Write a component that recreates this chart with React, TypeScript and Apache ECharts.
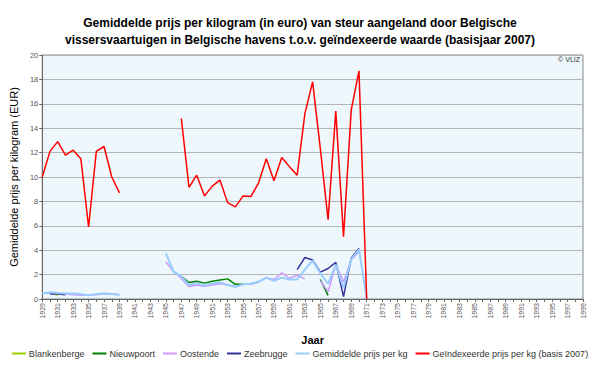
import React, { useEffect, useRef } from "react";
import * as echarts from "echarts";

const firstYear = 1929;
const lastYear = 1999;
const years: string[] = [];
for (let y = firstYear; y <= lastYear; y++) years.push(String(y));

// segments: [startYear, values]
const blankenberge: [number, number[]][] = [[1930, [0.55, 0.3]]];
const nieuwpoort: [number, number[]][] = [
  [1947, [1.85, 1.35, 1.45, 1.3, 1.45, 1.55, 1.65, 1.2, 1.2, 1.25, 1.4]],
  [1965, [1.6, 0.3]],
];
const oostende: [number, number[]][] = [
  [1929, [0.45, 0.5, 0.45, 0.4, 0.35, 0.3, 0.3, 0.35, 0.45, 0.4, 0.35]],
  [1945, [3.05, 2.25, 1.7, 1.0, 1.15, 1.05, 1.15, 1.25, 1.15, 1.0, 1.2, 1.2, 1.4, 1.75, 1.6, 2.15, 1.7, 1.95, 1.65]],
  [1965, [1.5, 0.6, 2.8, 1.4, 3.2, 3.9]],
];
const zeebrugge: [number, number[]][] = [
  [1930, [0.4, 0.4, 0.35]],
  [1962, [2.4, 3.4, 3.2, 2.2, 2.5, 3.0, 0.2, 3.35, 4.15]],
];
const gemiddelde: [number, number[]][] = [
  [1929, [0.45, 0.55, 0.5, 0.45, 0.45, 0.4, 0.3, 0.4, 0.45, 0.4, 0.35]],
  [1945, [3.75, 2.25, 1.85, 1.15, 1.3, 1.1, 1.25, 1.35, 1.15, 1.0, 1.2, 1.25, 1.4, 1.75, 1.5, 1.75, 1.6, 1.6, 2.4, 3.15, 2.1, 1.25, 2.8, 0.9, 3.25, 4.05, 0.05]],
];
const geindexeerd: [number, number[]][] = [
  [1929, [10.0, 12.1, 12.9, 11.8, 12.2, 11.5, 5.9, 12.1, 12.5, 10.0, 8.7]],
  [1947, [14.8, 9.15, 10.15, 8.45, 9.25, 9.75, 7.9, 7.55, 8.45, 8.4, 9.5, 11.5, 9.7, 11.6, 10.85, 10.15, 15.2, 17.8, 12.3, 6.5, 15.4, 5.1, 15.5, 18.7, 0]],
];

function build(segs: [number, number[]][]): (number | null)[] {
  const out: (number | null)[] = years.map(() => null);
  segs.forEach(([start, vals]) => {
    vals.forEach((v, i) => {
      out[start - firstYear + i] = v;
    });
  });
  return out;
}

const seriesDefs = [
  { name: "Blankenberge", color: "#99cc00", data: blankenberge, width: 1.5 },
  { name: "Nieuwpoort", color: "#008000", data: nieuwpoort, width: 1.5 },
  { name: "Oostende", color: "#cc99ff", data: oostende, width: 1.5 },
  { name: "Zeebrugge", color: "#333399", data: zeebrugge, width: 1.5 },
  { name: "Gemiddelde prijs per kg", color: "#99ccff", data: gemiddelde, width: 2 },
  { name: "Geïndexeerde prijs per kg (basis 2007)", color: "#ff0000", data: geindexeerd, width: 1.5 },
];

export default function App() {
  const ref = useRef<HTMLDivElement>(null);
  useEffect(() => {
    if (!ref.current) return;
    const chart = echarts.init(ref.current, undefined, { renderer: "svg" });
    const font = "Liberation Sans, Arial, sans-serif";
    chart.setOption({
      animation: false,
      backgroundColor: "#ffffff",
      textStyle: { fontFamily: font },
      title: {
        text: "Gemiddelde prijs per kilogram (in euro) van steur aangeland door Belgische\nvissersvaartuigen in Belgische havens t.o.v. geïndexeerde waarde (basisjaar 2007)",
        left: "center",
        top: 9,
        textStyle: { fontSize: 12, fontWeight: "bold", color: "#000", lineHeight: 17, fontFamily: font },
      },
      graphic: [
        {
          type: "text",
          right: 20,
          top: 56,
          style: { text: "© VLIZ", fontSize: 7, fill: "#333", fontFamily: font },
        },
      ],
      legend: {
        bottom: 5,
        left: "center",
        itemWidth: 14,
        itemHeight: 2,
        itemGap: 8,
        icon: "rect",
        textStyle: { fontSize: 9, color: "#333", fontFamily: font, padding: [0, 0, 0, -2] },
        data: seriesDefs.map((s) => s.name),
      },
      grid: {
        left: 42,
        top: 55,
        width: 541,
        height: 244,
        show: true,
        backgroundColor: "#eef8fc",
        borderColor: "#888",
        borderWidth: 1,
      },
      xAxis: {
        type: "category",
        data: years,
        boundaryGap: false,
        name: "Jaar",
        nameLocation: "middle",
        nameGap: 35,
        nameTextStyle: { fontSize: 11, fontWeight: "bold", color: "#000" },
        axisLine: { lineStyle: { color: "#666" } },
        axisTick: { interval: 0, length: 3, lineStyle: { color: "#666" } },
        axisLabel: { interval: 1, rotate: 90, fontSize: 7, color: "#555", margin: 4 },
        splitLine: { show: false },
      },
      yAxis: {
        type: "value",
        min: 0,
        max: 20,
        interval: 2,
        name: "Gemiddelde prijs per kilogram (EUR)",
        nameLocation: "middle",
        nameGap: 21,
        nameTextStyle: { fontSize: 11, color: "#000" },
        axisLine: { show: true, lineStyle: { color: "#666" } },
        axisTick: { show: true, length: 3, lineStyle: { color: "#666" } },
        axisLabel: { fontSize: 7.5, color: "#555", margin: 4 },
        splitLine: { lineStyle: { color: "#b4b4b4", width: 1 } },
      },
      series: seriesDefs.map((s) => ({
        name: s.name,
        type: "line",
        data: build(s.data),
        showSymbol: false,
        symbol: "none",
        connectNulls: false,
        color: s.color,
        lineStyle: { color: s.color, width: s.width },
      })),
    });
    return () => chart.dispose();
  }, []);
  return <div ref={ref} style={{ width: 600, height: 368, position: "absolute", left: 0, top: 0 }} />;
}
